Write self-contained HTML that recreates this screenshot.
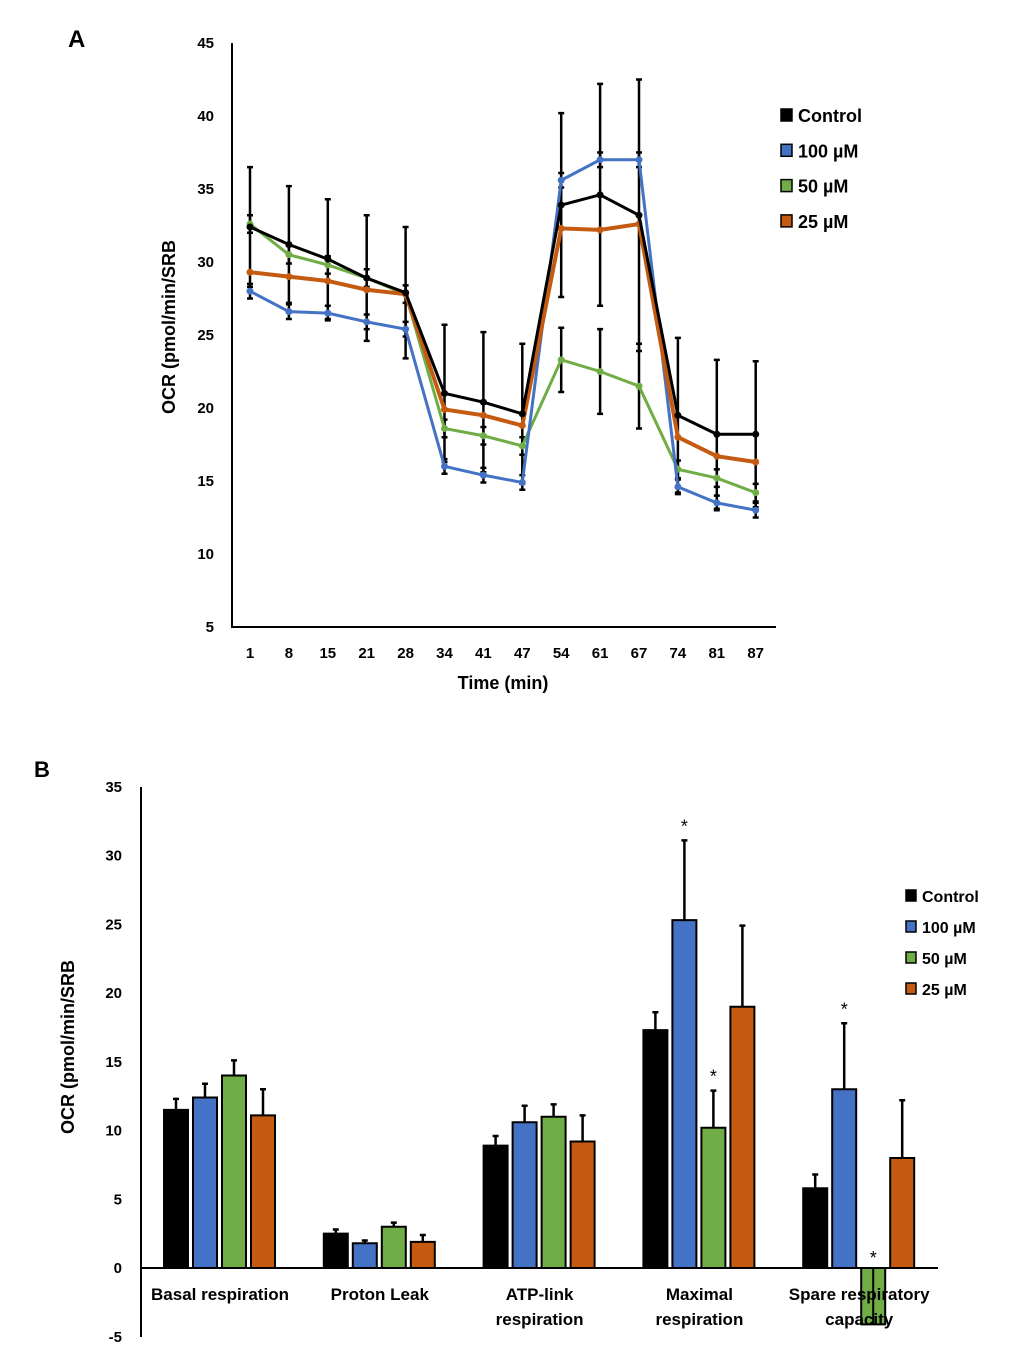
<!DOCTYPE html>
<html><head><meta charset="utf-8"><style>
html,body{margin:0;padding:0;background:#fff;}
svg{display:block;font-family:"Liberation Sans",Arial,sans-serif;}
</style></head><body>
<svg id="chart" width="1020" height="1370" viewBox="0 0 1020 1370"></svg>
<script>
// ---- Panel A data ----
const timeLabels = ["1","8","15","21","28","34","41","47","54","61","67","74","81","87"];
const controlA = [32.4,31.2,30.2,28.9,27.9,21.0,20.4,19.6,33.9,34.6,33.2,19.5,18.2,18.2];
const uM100A  = [28.0,26.6,26.5,25.9,25.4,16.0,15.4,14.9,35.6,37.0,37.0,14.6,13.5,13.0];
const uM50A   = [32.6,30.5,29.8,28.9,27.8,18.6,18.1,17.4,23.3,22.5,21.5,15.8,15.2,14.2];
const uM25A   = [29.3,29.0,28.7,28.1,27.8,19.9,19.5,18.8,32.3,32.2,32.6,18.0,16.7,16.3];
const controlErrA = [4.1,4.0,4.1,4.3,4.5,4.7,4.8,4.8,6.3,7.6,9.3,5.3,5.1,5.0];
const uM50ErrA = [0.6,0.6,0.6,0.6,0.6,0.6,0.6,0.6,2.2,2.9,2.9,0.6,0.6,0.6];
const yTicksA = [5,10,15,20,25,30,35,40,45];
// ---- Panel B data ----
const categoriesB = [["Basal respiration"],["Proton Leak"],["ATP-link","respiration"],["Maximal","respiration"],["Spare respiratory","capacity"]];
const controlB = [11.5,2.5,8.9,17.3,5.8];
const uM100B  = [12.4,1.8,10.6,25.3,13.0];
const uM50B   = [14.0,3.0,11.0,10.2,-4.1];
const uM25B   = [11.1,1.9,9.2,19.0,8.0];
const controlErrB = [0.8,0.3,0.7,1.3,1.0];
const uM100ErrB  = [1.0,0.2,1.2,5.8,4.8];
const uM50ErrB   = [1.1,0.3,0.9,2.7,0.0];
const uM25ErrB   = [1.9,0.5,1.9,5.9,4.2];
const starsB = [[0,0,0,0],[0,0,0,0],[0,0,0,0],[0,1,1,0],[0,1,1,0]];
const yTicksB = [-5,0,5,10,15,20,25,30,35];
const seriesNames = ["Control","100 µM","50 µM","25 µM"];
const colors = ["#000000","#4472C4","#70AD47","#C55A11"];

const svg = document.getElementById('chart');
const NS = "http://www.w3.org/2000/svg";
function mk(tag, attrs, parent){const e=document.createElementNS(NS,tag);for(const k in attrs)e.setAttribute(k,attrs[k]);(parent||svg).appendChild(e);return e;}
function txt(s,attrs,parent){const e=mk('text',attrs,parent);e.textContent=s;return e;}

// ===== Panel A =====
const gA = mk('g',{});


const yA = v => 627 - (v-5)*14.6;
const xA = i => 250 + i*38.9;
const pl = txt("A",{x:68,y:47,'font-size':24,'font-weight':'bold'},gA);


const axA = mk('path',{d:`M232,43 V627 H776`,stroke:'#000','stroke-width':2,fill:'none'},gA);


yTicksA.forEach(t=>{
  const e=txt(String(t),{x:214,y:yA(t)+5,'font-size':15,'font-weight':'bold','text-anchor':'end'},gA);
  
  
});
timeLabels.forEach((t,i)=>{
  const e=txt(t,{x:xA(i),y:658,'font-size':15,'font-weight':'bold','text-anchor':'middle'},gA);
  
  
});
const xt=txt("Time (min)",{x:503,y:689,'font-size':18,'font-weight':'bold','text-anchor':'middle'},gA);


const yt=txt("OCR (pmol/min/SRB",{x:0,y:0,'font-size':18,'font-weight':'bold','text-anchor':'middle',transform:'translate(175,327) rotate(-90)'},gA);



function errBar(g,x,v,e,yf,w){
  mk('path',{d:`M${x},${yf(v-e)} V${yf(v+e)} M${x-w},${yf(v+e)} H${x+w} M${x-w},${yf(v-e)} H${x+w}`,stroke:'#000','stroke-width':2.5,fill:'none'},g);
}
const seriesA=[controlA,uM100A,uM50A,uM25A];
// error bars
const ebA=mk('g',{},gA);


controlA.forEach((v,i)=>errBar(ebA,xA(i),v,controlErrA[i],yA,3));
uM50A.forEach((v,i)=>errBar(ebA,xA(i),v,uM50ErrA[i],yA,3));
uM100A.forEach((v,i)=>errBar(ebA,xA(i),v,0.5,yA,3));
const drawOrder=[2,1,3,0];
drawOrder.forEach(s=>{
  const data=seriesA[s];
  const g=mk('g',{},gA);
  
  
  mk('polyline',{points:data.map((v,i)=>xA(i)+','+yA(v)).join(' '),fill:'none',stroke:colors[s],'stroke-width':s===3?4:3},g);
  data.forEach((v,i)=>{
    const c=mk('circle',{cx:xA(i),cy:yA(v),r:3.5,fill:colors[s]},g);
    
    
  });
});
seriesNames.forEach((n,i)=>{
  const g=mk('g',{},gA);
  
  
  const y=116+i*35.3;
  mk('rect',{x:781,y:y-7,width:11,height:12,fill:colors[i],stroke:'#000','stroke-width':1.5},g);
  txt(n,{x:798,y:y+6,'font-size':18,'font-weight':'bold'},g);
});

// ===== Panel B =====
const gB=mk('g',{});


const yB = v => 1268 - v*13.75;
const groupX = i => 220 + i*159.8;
const pb=txt("B",{x:34,y:777,'font-size':22,'font-weight':'bold'},gB);


yTicksB.forEach(t=>{
  const e=txt(String(t),{x:122,y:yB(t)+5,'font-size':15,'font-weight':'bold','text-anchor':'end'},gB);
  
  
});
const ytb=txt("OCR (pmol/min/SRB",{x:0,y:0,'font-size':18,'font-weight':'bold','text-anchor':'middle',transform:'translate(74,1047) rotate(-90)'},gB);


const seriesB=[controlB,uM100B,uM50B,uM25B];
const errsB=[controlErrB,uM100ErrB,uM50ErrB,uM25ErrB];
categoriesB.forEach((cat,ci)=>{
  seriesB.forEach((data,s)=>{
    const v=data[ci];
    const x=groupX(ci)-56+s*29;
    const g=mk('g',{},gB);
    
    
    const e=errsB[s][ci];
    if(v>=0){
      if(e>0) mk('path',{d:`M${x+12},${yB(v)} V${yB(v+e)} M${x+9},${yB(v+e)} H${x+15}`,stroke:'#000','stroke-width':2.5,fill:'none'},g);
      mk('rect',{x:x,y:yB(v),width:24,height:yB(0)-yB(v),fill:colors[s],stroke:'#000','stroke-width':2},g);
    } else {
      mk('rect',{x:x,y:yB(0),width:24,height:yB(v)-yB(0),fill:colors[s],stroke:'#000','stroke-width':2},g);
      mk('path',{d:`M${x+12},${yB(0)} V${yB(v)}`,stroke:'#000','stroke-width':2},g);
    }
    if(starsB[ci][s]){
      const sy = v>=0 ? yB(v+e)-8 : yB(0)-4;
      const st=txt("*",{x:x+12,y:sy,'font-size':18,'text-anchor':'middle'},g);
      
      
    }
  });
  cat.forEach((line,li)=>{
    const e=txt(line,{x:groupX(ci),y:1300+li*25,'font-size':17,'font-weight':'bold','text-anchor':'middle'},gB);
    
    
  });
});
const axB=mk('path',{d:`M141,787 V1337 M141,1268 H938`,stroke:'#000','stroke-width':2,fill:'none'},gB);


seriesNames.forEach((n,i)=>{
  const g=mk('g',{},gB);
  
  
  const y=896+i*31;
  mk('rect',{x:906,y:y-6,width:10,height:11,fill:colors[i],stroke:'#000','stroke-width':1.5},g);
  txt(n,{x:922,y:y+6,'font-size':16,'font-weight':'bold'},g);
});
</script>
</body></html>
